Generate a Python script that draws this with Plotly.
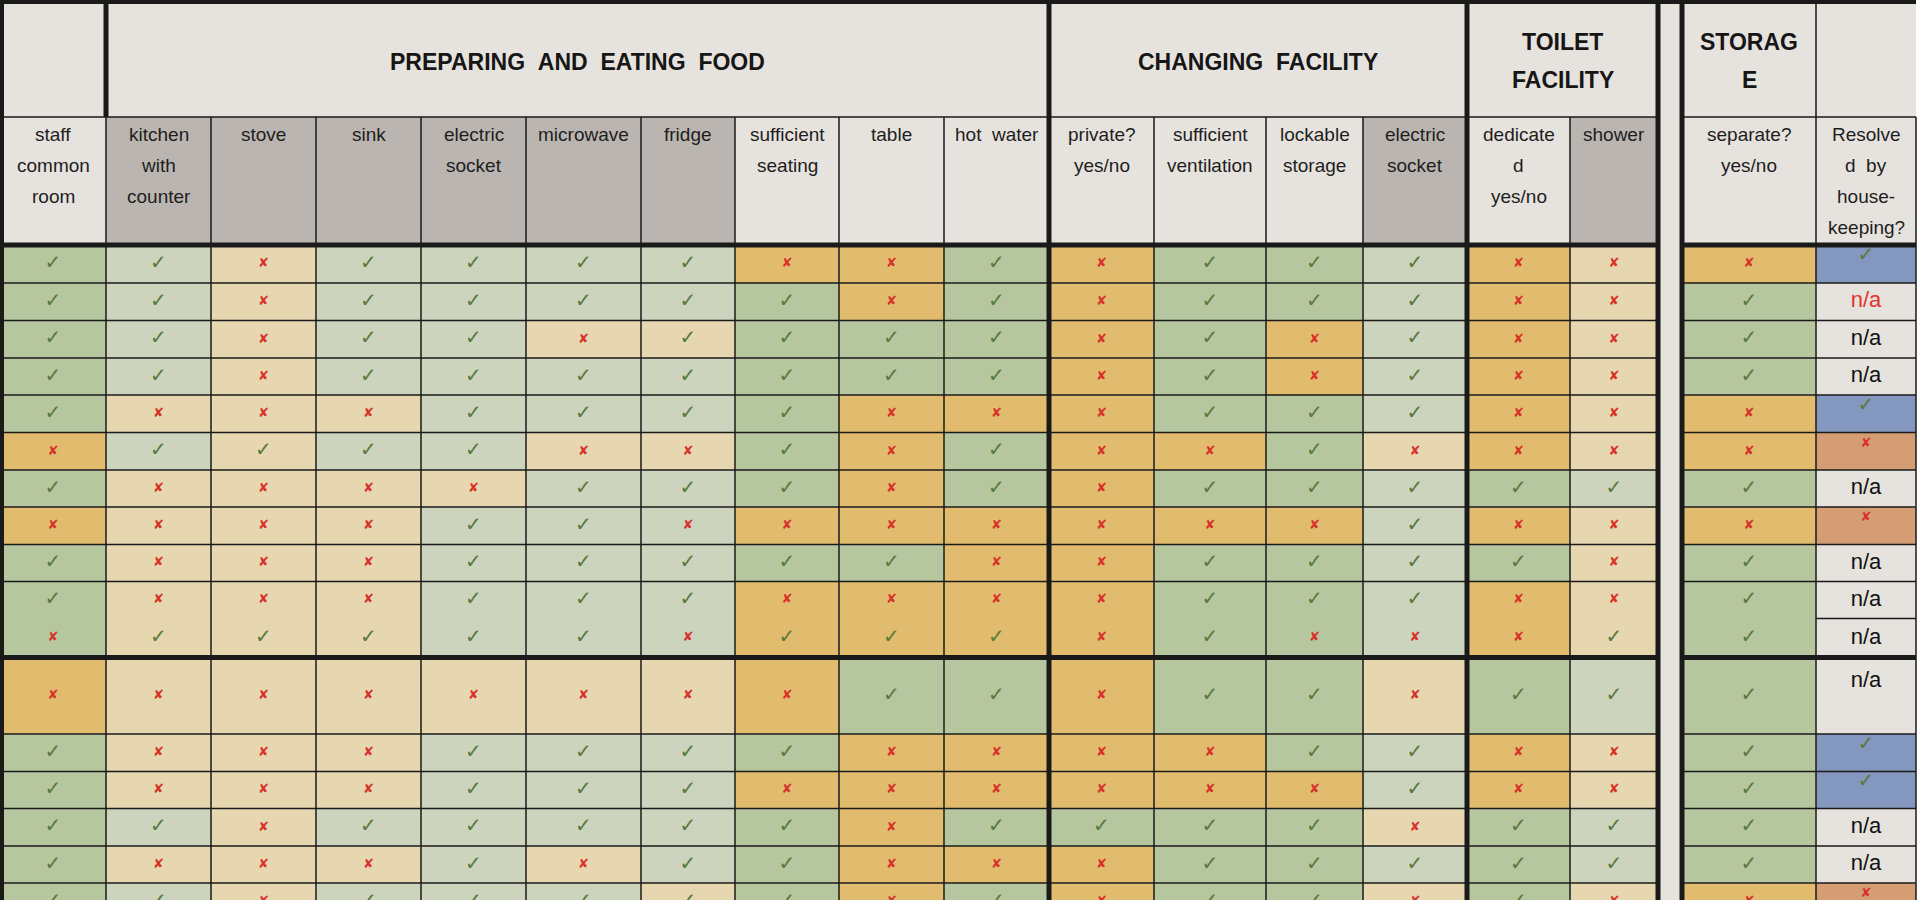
import numpy as np
import plotly.graph_objects as go

# ---------------- data ----------------
# top header row: (text lines, first column, last column)
GROUPS = [
    ([], 0, 0),
    (["PREPARING\u00a0\u00a0AND\u00a0\u00a0EATING\u00a0\u00a0FOOD"], 1, 9),
    (["CHANGING\u00a0\u00a0FACILITY"], 10, 13),
    (["TOILET", "FACILITY"], 14, 15),
    (["STORAG", "E"], 16, 16),
    ([], 17, 17),
]

# second header row, one list of lines per column
COLUMNS = [
    ["staff", "common", "room"],
    ["kitchen", "with", "counter"],
    ["stove"],
    ["sink"],
    ["electric", "socket"],
    ["microwave"],
    ["fridge"],
    ["sufficient", "seating"],
    ["table"],
    ["hot\u00a0 water"],
    ["private?", "yes/no"],
    ["sufficient", "ventilation"],
    ["lockable", "storage"],
    ["electric", "socket"],
    ["dedicate", "d", "yes/no"],
    ["shower"],
    ["separate?", "yes/no"],
    ["Resolve", "d\u00a0 by", "house-", "keeping?"],
]
# H = light header, D = grey header
HEADER_SHADE = "HDDDDDDHHHHHHDHDHH"

# v = tick, x = cross, n = n/a, r = n/a in red
MARKS = [
    "vvxvvvvxxvxvvvxxxv",
    "vvxvvvvvxvxvvvxxvr",
    "vvxvvxvvvvxvxvxxvn",
    "vvxvvvvvvvxvxvxxvn",
    "vxxxvvvvxxxvvvxxxv",
    "xvvvvxxvxvxxvxxxxx",
    "vxxxxvvvxvxvvvvvvn",
    "xxxxvvxxxxxxxvxxxx",
    "vxxxvvvvvxxvvvvxvn",
    "vxxxvvvxxxxvvvxxvn",
    "xvvvvvxvvvxvxxxvvn",
    "xxxxxxxxvvxvvxvvvn",
    "vxxxvvvvxxxxvvxxvv",
    "vxxxvvvxxxxxxvxxvv",
    "vvxvvvvvxvvvvxvvvn",
    "vxxxvxvvxxxvvvvvvn",
    "vvxvvvvvxvxvvxvxxx",
]

# cell colours: G dark green, g pale green, O orange, t tan,
# B blue, S salmon, N grey
FILLS = [
    "GgtggggOOGOGGgOtOB",
    "GgtggggGOGOGGgOtGN",
    "GgtggttGGGOGOgOtGN",
    "GgtggggGGGOGOgOtGN",
    "GtttgggGOOOGGgOtOB",
    "OgtggttGOGOOGtOtOS",
    "GttttggGOGOGGgGgGN",
    "OtttgggOOOOOOgOtOS",
    "GtttgggGGOOGGgGtGN",
    "GtttgggOOOOGGgOtGN",
    "GtttgggOOOOGGgOtGN",
    "OttttttOGGOGGtGgGN",
    "GtttgggGOOOOGgOtGB",
    "GtttgggOOOOOOgOtGB",
    "GgtggggGOGGGGtGgGN",
    "GtttgtgGOOOGGgGgGN",
    "GgtgggtGOGOGGtGtOS",
]
MERGED_ROWS = [10]  # data row drawn as one cell with the row above

# ---------------- layout ----------------
COL_W = [106, 105, 105, 105, 105, 115, 94, 104, 105, 105,
         105, 112, 97, 104, 103, 88, 24, 134, 100]
ROW_H = [117, 128, 38, 37.5, 37.5, 37, 37.5, 37.5, 37, 37.5, 37, 37, 39,
         76.5, 37.5, 37, 37.5, 37, 37]
GAP_COL = 16
THICK_EDGES = [10, 14, 16, 17]
GROUP_EDGES = {1: 5, 10: 5, 14: 5, 16: 5, 17: 5, 18: 1.5}

PALETTE = {
    "H": "#e6e2dd", "D": "#bab5b0", "G": "#b6c69f", "g": "#cdd4be",
    "O": "#e2bc6e", "t": "#e6d7b1", "B": "#8497bf", "S": "#d59d74",
    "N": "#e6e2dd",
}
LINE = "#1a1a1a"
FONT = "Liberation Sans, Arial, sans-serif"
SYM_FONT = "DejaVu Sans"

xe = np.concatenate([[0], np.cumsum(COL_W)])
ye = np.concatenate([[0], np.cumsum(ROW_H)])
W, H = 1920, 900


def gcol(j):
    return j if j < GAP_COL else j + 1


def with_gap(s):
    return s[:GAP_COL] + "H" + s[GAP_COL:]


keys = list(PALETTE)
grid = ["H" * 18, HEADER_SHADE] + FILLS
z = [[keys.index(c) for c in with_gap(s)] for s in grid]
n = len(keys)
cscale = []
for i, k in enumerate(keys):
    cscale += [[i / n, PALETTE[k]], [(i + 1) / n, PALETTE[k]]]

fig = go.Figure()
fig.add_trace(go.Heatmap(
    z=z, x=xe, y=ye, colorscale=cscale, zmin=-0.5, zmax=n - 0.5,
    showscale=False, hoverinfo="skip",
))

# marks
ticks, crosses, nas = ([], [], []), ([], [], []), ([], [], [], [])
for i, row in enumerate(MARKS):
    top, bot = ye[i + 2], ye[i + 3]
    for j, m in enumerate(row):
        gc = gcol(j)
        cx = (xe[gc] + xe[gc + 1]) / 2
        cy = (top + bot) / 2
        if FILLS[i][j] in "BS":
            cy -= 8
        if m == "v":
            ticks[0].append(cx); ticks[1].append(cy)
        elif m == "x":
            crosses[0].append(cx); crosses[1].append(cy)
        else:
            if bot - top > 50:
                cy = top + 24
            nas[0].append(cx); nas[1].append(cy)
            nas[2].append("#e3342c" if m == "r" else "#111111")

fig.add_trace(go.Scatter(
    x=ticks[0], y=ticks[1], mode="text", text=["\u2713"] * len(ticks[0]),
    textfont=dict(family=SYM_FONT, size=20, color="#5a7a3c"),
    hoverinfo="skip", showlegend=False,
))
fig.add_trace(go.Scatter(
    x=crosses[0], y=crosses[1], mode="text", text=["\u2718"] * len(crosses[0]),
    textfont=dict(family=SYM_FONT, size=13, color="#d8322a"),
    hoverinfo="skip", showlegend=False,
))
fig.add_trace(go.Scatter(
    x=nas[0], y=nas[1], mode="text", text=["n/a"] * len(nas[0]),
    textfont=dict(family=FONT, size=22, color=nas[2]),
    hoverinfo="skip", showlegend=False,
))

# header text
for lines, a, b in GROUPS:
    cx = (xe[gcol(a)] + xe[gcol(b) + 1]) / 2
    ys = [62] if len(lines) == 1 else [42, 80]
    for t, y in zip(lines, ys):
        fig.add_annotation(x=cx, y=y, text="<b>%s</b>" % t, showarrow=False,
                           font=dict(family=FONT, size=23, color="#161616"))
for j, lines in enumerate(COLUMNS):
    gc = gcol(j)
    cx = (xe[gc] + xe[gc + 1]) / 2
    for k, t in enumerate(lines):
        fig.add_annotation(x=cx, y=134 + 31 * k, text=t, showarrow=False,
                           font=dict(family=FONT, size=19, color="#1e1e1e"))

# grid lines
shapes = []


def seg(x0, y0, x1, y1, w):
    shapes.append(dict(type="line", x0=x0, y0=y0, x1=x1, y1=y1,
                       line=dict(color=LINE, width=w), layer="above"))


gap_l, gap_r = xe[GAP_COL], xe[GAP_COL + 1]
seg(2, 0, 2, H, 4)
seg(0, 2, xe[-1], 2, 4)
for k in range(1, len(xe)):
    if k in GROUP_EDGES:
        seg(xe[k], 0, xe[k], ye[1], GROUP_EDGES[k])
    seg(xe[k], ye[1], xe[k], H, 5 if k in THICK_EDGES else 1.5)
for r in range(1, len(ye) - 1):
    y = ye[r]
    if y > H:
        continue
    w = 5 if r in (2, 2 + MERGED_ROWS[0] + 1) else 1.5
    if r - 2 in MERGED_ROWS:
        seg(xe[-2], y, xe[-1], y, w)
        continue
    seg(0, y, gap_l, y, w)
    seg(gap_r, y, xe[-1], y, w)

fig.update_layout(
    width=W, height=H, margin=dict(l=0, r=0, t=0, b=0),
    paper_bgcolor="white", plot_bgcolor="white", shapes=shapes,
    xaxis=dict(range=[0, W], visible=False, fixedrange=True),
    yaxis=dict(range=[H, 0], visible=False, fixedrange=True),
)

# page body has a default 8px margin; drop it so the table sits at 0,0
fig.write_html("out.html", config={"displayModeBar": False},
               post_script="document.body.style.margin = '0';")
